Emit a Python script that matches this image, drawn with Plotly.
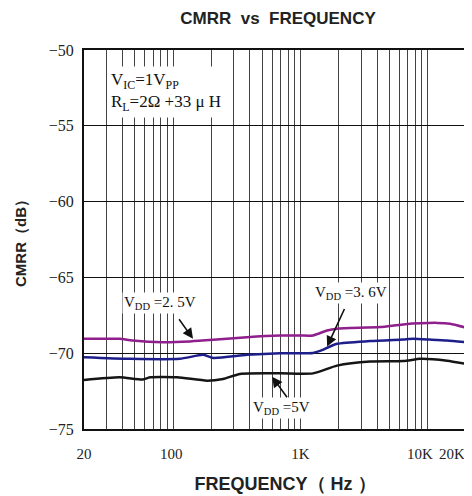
import math
import plotly.graph_objects as go

# ---------------- data ----------------
freq_25 = [20, 38, 48, 84, 136, 207, 381, 693, 1000, 1258, 1622, 1942, 4230, 6410, 11860, 15000, 20000]
cmrr_25 = [-69.05, -69.05, -69.16, -69.27, -69.22, -69.12, -68.94, -68.83, -68.83, -68.83, -68.5, -68.38,
           -68.28, -68.1, -68.0, -68.05, -68.32]

freq_36 = [20, 46, 113, 173, 207, 381, 693, 1258, 1428, 1942, 3530, 6410, 7680, 10450, 14200, 20000]
cmrr_36 = [-70.26, -70.37, -70.37, -70.11, -70.31, -70.11, -70.0, -69.98, -69.85, -69.38, -69.2, -69.09,
           -69.05, -69.1, -69.16, -69.27]

freq_5 = [20, 38, 58, 66, 108, 185, 247, 336, 693, 1258, 1942, 3530, 6410, 8710, 11000, 14200, 20000]
cmrr_5 = [-71.77, -71.59, -71.74, -71.59, -71.59, -71.81, -71.7, -71.37, -71.33, -71.33, -70.82, -70.55,
          -70.52, -70.37, -70.4, -70.5, -70.7]

# vertical grid lines (1-2-...-9 per decade)
x_grid_vals = [20, 30, 40, 50, 60, 70, 80, 90,
               100, 200, 300, 400, 500, 600, 700, 800, 900,
               1000, 2000, 3000, 4000, 5000, 6000, 7000, 8000, 9000,
               10000, 20000]
# labelled ticks (10K / 20K labels sit slightly left, inside the right edge, as in the original)
x_label_vals = [20, 97, 1000, 8700, 15500]
x_label_text = ["20", "100", "1K", "10K", "20K"]

SERIF = "Liberation Serif, Times New Roman, serif"
SANS = "Liberation Sans, Arial, sans-serif"

fig = go.Figure()
fig.add_trace(go.Scatter(x=freq_25, y=cmrr_25, mode="lines",
                         line=dict(color="#8E1F8C", width=2.5, shape="spline", smoothing=0.6),
                         name="VDD=2.5V", showlegend=False))
fig.add_trace(go.Scatter(x=freq_36, y=cmrr_36, mode="lines",
                         line=dict(color="#1E1E8A", width=2.5, shape="spline", smoothing=0.6),
                         name="VDD=3.6V", showlegend=False))
fig.add_trace(go.Scatter(x=freq_5, y=cmrr_5, mode="lines",
                         line=dict(color="#151515", width=2.5, shape="spline", smoothing=0.6),
                         name="VDD=5V", showlegend=False))

L = math.log10

annotations = [
    # info box
    dict(x=L(30.5), y=-52.8, xref="x", yref="y", xanchor="left", yanchor="middle", showarrow=False,
         text="V<sub>IC</sub>=1V<sub>PP</sub><br>R<sub>L</sub>=2Ω +33 μ H", align="left",
         font=dict(family=SERIF, size=17, color="#111"), bgcolor="white", borderpad=3),
    # labels
    dict(x=L(79), y=-66.7, xref="x", yref="y", showarrow=False, text="V<sub>DD</sub> =2. 5V",
         font=dict(family=SERIF, size=15, color="#111"), bgcolor="white", borderpad=1),
    dict(x=L(2500), y=-66.04, xref="x", yref="y", showarrow=False, text="V<sub>DD</sub> =3. 6V",
         font=dict(family=SERIF, size=15, color="#111"), bgcolor="white", borderpad=1),
    dict(x=L(706), y=-73.6, xref="x", yref="y", showarrow=False, text="V<sub>DD</sub> =5V",
         font=dict(family=SERIF, size=15, color="#111"), bgcolor="white", borderpad=1),
    # arrows
    dict(x=L(143.6), y=-69.05, xref="x", yref="y", ax=-15, ay=-21, text="", showarrow=True,
         arrowhead=2, arrowsize=1.3, arrowwidth=1.6, arrowcolor="#111", standoff=0),
    dict(x=L(1623), y=-69.56, xref="x", yref="y", ax=18, ay=-39, text="", showarrow=True,
         arrowhead=2, arrowsize=1.3, arrowwidth=1.6, arrowcolor="#111", standoff=0),
    dict(x=L(600), y=-71.55, xref="x", yref="y", ax=16, ay=22, text="", showarrow=True,
         arrowhead=2, arrowsize=1.3, arrowwidth=1.6, arrowcolor="#111", standoff=0),
]

# the page adds an 8px body margin, so the figure is 464x488 inside a 472x496 window
W, H = 464, 488
fig.update_layout(
    width=W, height=H,
    margin=dict(l=76, r=6, t=42, b=67),
    paper_bgcolor="white", plot_bgcolor="white",
    title=dict(text="<b>CMRR  vs  FREQUENCY</b>", x=270 / W, xref="container", xanchor="center",
               y=1 - 10 / H, yref="container", yanchor="middle",
               font=dict(family=SANS, size=17, color="#222")),
    annotations=annotations,
)

fig.update_xaxes(
    type="log", range=[L(20), L(20000)], automargin=False,
    tickmode="array", tickvals=x_label_vals, ticktext=x_label_text, tickangle=0,
    ticklabeloverflow="allow",
    showgrid=False,
    minor=dict(tickmode="array", tickvals=x_grid_vals, showgrid=True, gridcolor="#444", gridwidth=1, ticks=""),
    showline=True, linecolor="#111", linewidth=2, mirror=True,
    ticks="", ticklabelstandoff=10,
    tickfont=dict(family=SERIF, size=15, color="#222"),
    title=dict(text="&nbsp;&nbsp;&nbsp;&nbsp;<b>FREQUENCY（ Hz ）</b>", font=dict(family=SANS, size=18, color="#222"),
               standoff=16),
    zeroline=False,
)
fig.update_yaxes(
    range=[-75, -50], dtick=5, tick0=-75, automargin=False,
    showgrid=True, gridcolor="#111", gridwidth=1,
    showline=True, linecolor="#111", linewidth=2, mirror=True,
    ticks="", ticklabelstandoff=5,
    tickfont=dict(family=SERIF, size=16, color="#222"),
    title=dict(text="<b>CMRR（dB）</b>", font=dict(family=SANS, size=15, color="#222"), standoff=19),
    zeroline=False,
)

fig.write_html("out.html")
